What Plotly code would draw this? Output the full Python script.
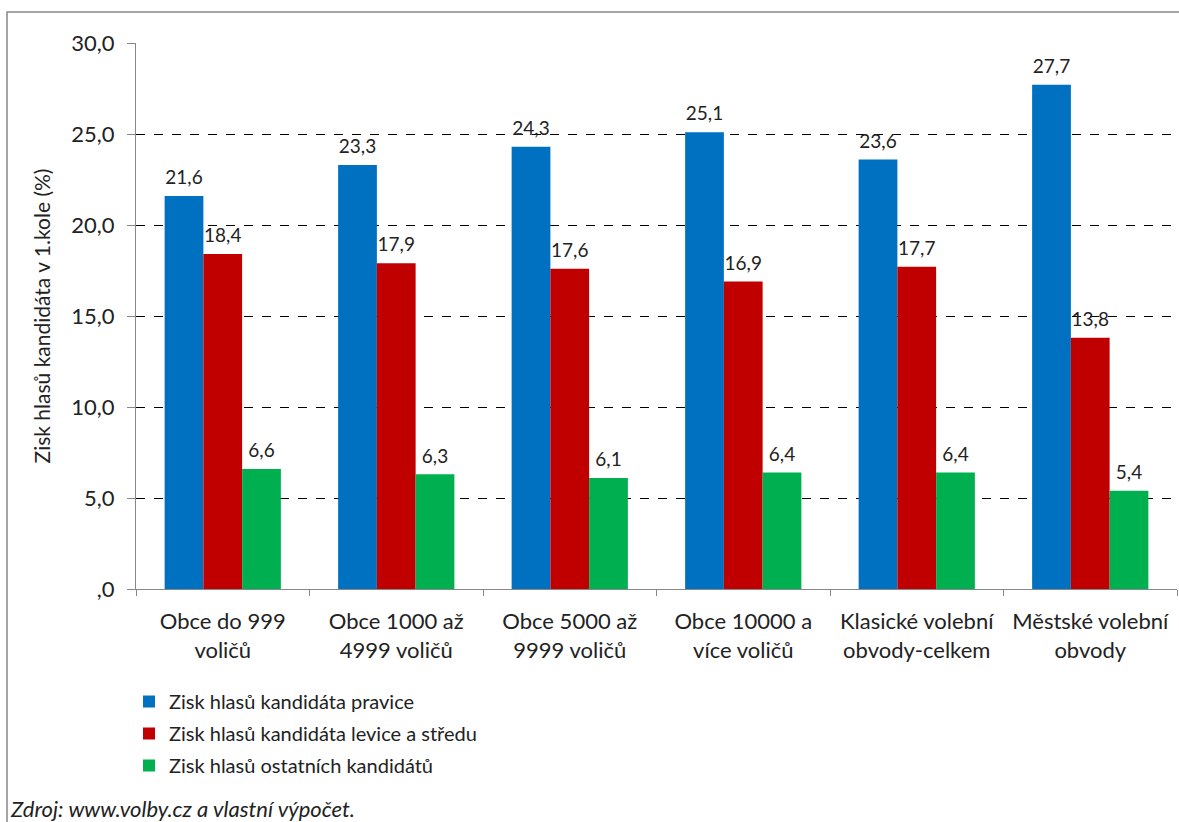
import plotly.graph_objects as go

categories = ["Obce do 999<br>voličů", "Obce 1000 až<br>4999 voličů", "Obce 5000 až<br>9999 voličů",
              "Obce 10000 a<br>více voličů", "Klasické volební<br>obvody-celkem", "Městské volební<br>obvody"]
pravice = [21.6, 23.3, 24.3, 25.1, 23.6, 27.7]
levice = [18.4, 17.9, 17.6, 16.9, 17.7, 13.8]
ostatni = [6.6, 6.3, 6.1, 6.4, 6.4, 5.4]
series_names = ["Zisk hlasů kandidáta pravice", "Zisk hlasů kandidáta levice a středu",
                "Zisk hlasů ostatních kandidátů"]
colors = ["#0070C0", "#C00000", "#00B050"]
tick_vals = [0, 5, 10, 15, 20, 25, 30]
tick_text = [",0", "5,0", "10,0", "15,0", "20,0", "25,0", "30,0"]

FONT = "Lato"
W, H = 1179, 822
L, R, T, B = 136, 2, 43, 233
pw, ph = W - L - R, H - T - B

def px_x(p):
    return (p - L) / pw

def px_y(p):
    return (H - B - p) / ph

fig = go.Figure()
for i, (name, vals) in enumerate(zip(series_names, [pravice, levice, ostatni])):
    fig.add_trace(go.Bar(
        x=categories, y=vals, name=name, marker=dict(color=colors[i], line=dict(width=0)),
        texttemplate="<span style='font-size:19px'>%{y:.1f}</span><br> ", textposition="outside",
        textfont=dict(family=FONT, size=6, color="#222"),
        cliponaxis=False, legendgroup=f"g{i}",
    ))

fig.update_layout(
    width=W, height=H,
    margin=dict(l=L, r=R, t=T, b=B, autoexpand=False),
    paper_bgcolor="white", plot_bgcolor="white",
    separators=",.",
    barmode="group", bargap=0.33, bargroupgap=0,
    font=dict(family=FONT, size=22, color="#222"),
    showlegend=True,
    legend=dict(orientation="v", x=px_x(129), xanchor="left", y=px_y(682), yanchor="top",
                font=dict(family=FONT, size=20, color="#222"), tracegroupgap=3,
                bgcolor="rgba(0,0,0,0)"),
    xaxis=dict(showline=True, linecolor="#888", linewidth=1, ticks="outside", tickson="boundaries",
               ticklen=6, tickcolor="#888", tickfont=dict(family=FONT, size=22, color="#222"),
               ticklabelstandoff=13, showgrid=False, automargin=False),
    yaxis=dict(range=[0, 30], tickvals=tick_vals, ticktext=tick_text, showline=True, linecolor="#888",
               linewidth=1, ticks="outside", ticklen=8, tickcolor="#888", automargin=False,
               showgrid=True, gridcolor="#000", griddash="dash", gridwidth=1, zeroline=False,
               tickfont=dict(family=FONT, size=22, color="#222"), ticklabelstandoff=8,
               title=dict(text="Zisk hlasů kandidáta v 1.kole (%)", standoff=14,
                          font=dict(family=FONT, size=21, color="#222"))),
    shapes=[dict(type="rect", xref="paper", yref="paper", x0=px_x(7), x1=px_x(1200),
                 y0=px_y(840), y1=px_y(12), line=dict(color="#888", width=1.5), layer="below")],
    annotations=[dict(text="<i>Zdroj: www.volby.cz a vlastní výpočet.</i>", xref="paper", yref="paper",
                      x=px_x(8), y=px_y(808), xanchor="left", yanchor="middle", showarrow=False,
                      font=dict(family=FONT, size=22, color="#222"))],
)

fig.write_html("out.html", config={"displayModeBar": False},
               post_script="document.body.style.margin='0px';")
